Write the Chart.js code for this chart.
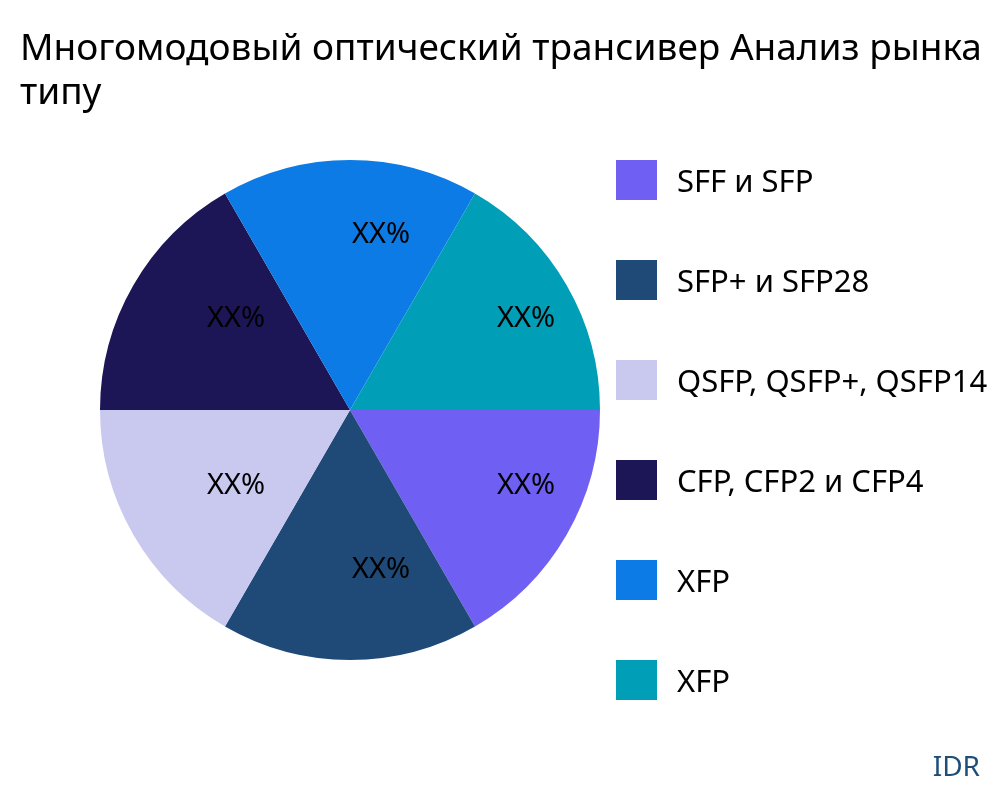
<!DOCTYPE html>
<html>
<head>
<meta charset="utf-8">
<script src="https://cdn.jsdelivr.net/npm/chart.js@4"></script>
<style>
  body { margin: 0; background: #fff; }
  #wrap { position: relative; width: 1000px; height: 800px; font-family: "Noto Sans"; overflow: hidden; }
  #pie { position: absolute; left: 0; top: 0; }
  #title { position: absolute; left: 20px; top: 24px; font-size: 37px; line-height: 44px; color: #000; white-space: nowrap; }
  #legend { position: absolute; left: 616px; top: 160px; }
  .item { height: 40px; margin-bottom: 60px; display: flex; align-items: center; font-size: 31px; color: #000; white-space: nowrap; }
  .box { width: 41px; height: 40px; margin-right: 20px; }
  #idr { position: absolute; right: 20px; bottom: 16px; font-size: 28px; color: #1f4e79; }
</style>
</head>
<body>
<div id="wrap">
  <canvas id="pie" width="1000" height="800"></canvas>
  <div id="title"></div>
  <div id="legend"></div>
  <div id="idr">IDR</div>
</div>
<script>
var titleLines = ['Многомодовый оптический трансивер Анализ рынка', 'типу'];
var categories = ['SFF и SFP', 'SFP+ и SFP28', 'QSFP, QSFP+, QSFP14', 'CFP, CFP2 и CFP4', 'XFP', 'XFP'];
var values = [1, 1, 1, 1, 1, 1];
var sliceLabels = ['XX%', 'XX%', 'XX%', 'XX%', 'XX%', 'XX%'];
var colors = ['#6f5ff2', '#1f4a78', '#c9c9f0', '#1c1656', '#0d7be6', '#009fb7'];

document.getElementById('title').innerHTML = titleLines.join('<br>');
var legendEl = document.getElementById('legend');
for (var i = 0; i < categories.length; i++) {
    var item = document.createElement('div');
    item.className = 'item';
    item.innerHTML = '<div class="box" style="background:' + colors[i] + '"></div>' + categories[i];
    legendEl.appendChild(item);
}

// writes XX% in the middle of each slice
var sliceText = {
    id: 'sliceText',
    afterDatasetsDraw: function (chart) {
        var ctx = chart.ctx;
        var arcs = chart.getDatasetMeta(0).data;
        ctx.save();
        ctx.font = '29px "Noto Sans"';
        ctx.fillStyle = '#000';
        ctx.textAlign = 'center';
        ctx.textBaseline = 'middle';
        for (var i = 0; i < arcs.length; i++) {
            var a = arcs[i];
            var mid = (a.startAngle + a.endAngle) / 2;
            var r = a.outerRadius * 0.67;
            ctx.fillText(sliceLabels[i], a.x + Math.cos(mid) * r + 31, a.y + Math.sin(mid) * r - 8);
        }
        ctx.restore();
    }
};

new Chart(document.getElementById('pie'), {
    type: 'pie',
    data: {
        labels: categories,
        datasets: [{
            data: values,
            backgroundColor: colors,
            borderWidth: 0
        }]
    },
    plugins: [sliceText],
    options: {
        responsive: false,
        animation: false,
        rotation: 90,
        layout: { padding: { left: 100, right: 400, top: 160, bottom: 140 } },
        plugins: {
            legend: { display: false },
            tooltip: { enabled: false }
        }
    }
});
</script>
</body>
</html>
